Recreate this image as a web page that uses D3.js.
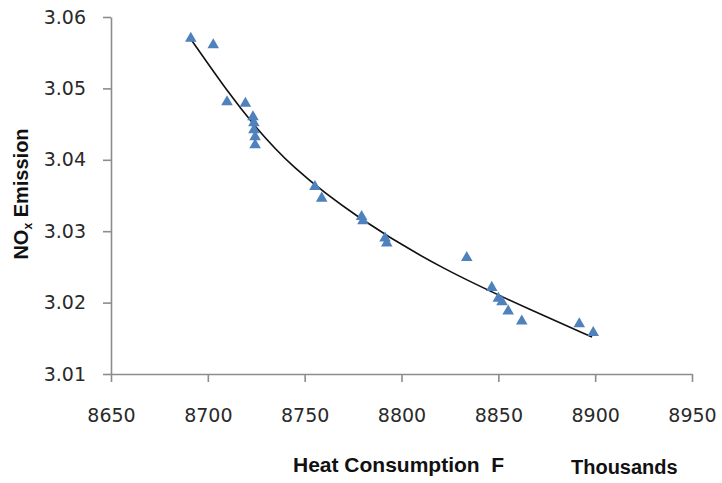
<!DOCTYPE html>
<html>
<head>
<meta charset="utf-8">
<script src="https://cdn.jsdelivr.net/npm/d3@7"></script>
<style>
  html, body { margin: 0; padding: 0; background: #fff; }
  svg { display: block; }
</style>
</head>
<body>
<svg id="chart" width="722" height="483"></svg>
<script>
// ---- data ----
const heatX = [8691.2, 8702.8, 8709.9, 8719.4, 8723.3, 8723.8, 8723.8, 8724.4, 8724.4,
               8755.3, 8758.8, 8779.4, 8780.1, 8791.5, 8792.4, 8833.7, 8846.6, 8850.0,
               8851.9, 8855.1, 8862.1, 8891.8, 8899.0];
const noxY  = [3.0570, 3.0561, 3.0481, 3.0479, 3.0460, 3.04515, 3.04417, 3.04319, 3.04207,
               3.03623, 3.03461, 3.03203, 3.03143, 3.02901, 3.02831, 3.02628, 3.02211, 3.02060,
               3.02008, 3.01880, 3.01740, 3.01700, 3.01578];
// trendline
const trendX = [8690.8, 8711.4, 8723.3, 8742.4, 8777.0, 8821.4, 8871.5, 8898.4];
const trendY = [3.05706, 3.04908, 3.04501, 3.03913, 3.03185, 3.02457, 3.01840, 3.01518];
const xTicks = [8650, 8700, 8750, 8800, 8850, 8900, 8950];
const yTicks = [3.01, 3.02, 3.03, 3.04, 3.05, 3.06];
const xTitle = "Heat Consumption  F";
const xUnit = "Thousands";

// ---- layout ----
const svg = d3.select("#chart");
const mLeft = 111, mTop = 17, mRight = 692, mBottom = 374;
const x = d3.scaleLinear().domain([8650, 8950]).range([mLeft, mRight]);
const y = d3.scaleLinear().domain([3.01, 3.06]).range([mBottom, mTop]);
const axisColor = "#8c8c8c";
const tickFont = "'DejaVu Sans', Verdana, sans-serif";
const titleFont = "'Liberation Sans', Arial, sans-serif";

// y axis
const gy = svg.append("g").attr("transform", `translate(${mLeft},0)`)
  .call(d3.axisLeft(y).tickValues(yTicks).tickFormat(d3.format(".2f")).tickSize(8).tickSizeOuter(0).tickPadding(17));
gy.select(".domain").attr("stroke", axisColor).attr("stroke-width", 1.6);
gy.selectAll(".tick line").attr("stroke", axisColor).attr("stroke-width", 1.6);
gy.selectAll(".tick text").attr("font-family", tickFont).attr("font-size", 19).attr("fill", "#2a2a2a");

// x axis
const gx = svg.append("g").attr("transform", `translate(0,${mBottom})`)
  .call(d3.axisBottom(x).tickValues(xTicks).tickFormat(d3.format("d")).tickSize(8).tickSizeOuter(0).tickPadding(27));
gx.select(".domain").attr("stroke", axisColor).attr("stroke-width", 1.6);
gx.selectAll(".tick line").attr("stroke", axisColor).attr("stroke-width", 1.6);
gx.selectAll(".tick text").attr("font-family", tickFont).attr("font-size", 19).attr("fill", "#2a2a2a");

// trendline
const trend = trendX.map((d, i) => [d, trendY[i]]);
svg.append("path")
  .datum(trend)
  .attr("fill", "none")
  .attr("stroke", "#111")
  .attr("stroke-width", 1.6)
  .attr("d", d3.line().x(d => x(d[0])).y(d => y(d[1])).curve(d3.curveBasis));

// markers
const pts = heatX.map((d, i) => [d, noxY[i]]);
svg.append("g").selectAll("path")
  .data(pts)
  .join("path")
  .attr("transform", d => `translate(${x(d[0])},${y(d[1])})`)
  .attr("d", d3.symbol(d3.symbolTriangle, 58))
  .attr("fill", "#4F81BD");

// axis titles
svg.append("text")
  .attr("x", 293).attr("y", 472)
  .attr("font-family", titleFont).attr("font-weight", "bold").attr("font-size", 21)
  .attr("fill", "#111")
  .style("white-space", "pre")
  .text(xTitle);
svg.append("text")
  .attr("x", 571).attr("y", 474)
  .attr("font-family", titleFont).attr("font-weight", "bold").attr("font-size", 20)
  .attr("fill", "#111")
  .text(xUnit);

const yt = svg.append("text")
  .attr("transform", "translate(28,194) rotate(-90)")
  .attr("text-anchor", "middle")
  .attr("font-family", titleFont).attr("font-weight", "bold").attr("font-size", 20)
  .attr("fill", "#111");
yt.append("tspan").text("NO");
yt.append("tspan").attr("font-size", 12).attr("dy", 4).text("x");
yt.append("tspan").attr("dy", -4).text(" Emission");
</script>
</body>
</html>
